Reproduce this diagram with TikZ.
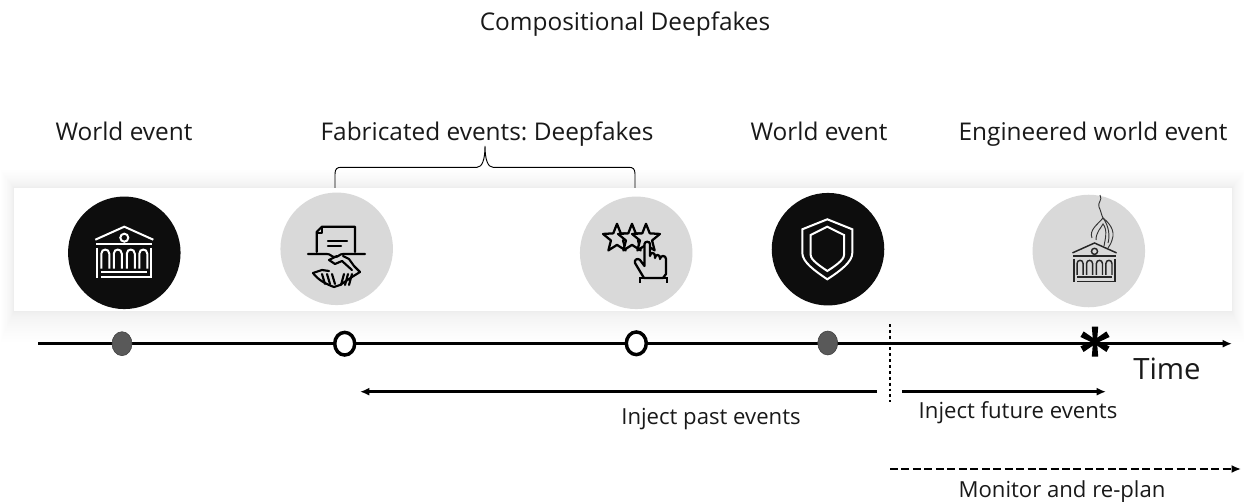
\documentclass[tikz,border=0pt]{standalone}
\usepackage{fontspec}
\setmainfont{Open Sans}
\usetikzlibrary{arrows.meta,shapes.geometric}
\frenchspacing

\definecolor{icongray}{HTML}{D9D9D9}
\definecolor{iconblack}{HTML}{0D0D0D}
\definecolor{dotgray}{HTML}{595959}

\tikzset{
  every picture/.style={line width=0.75pt},
  iconblob/.style={circle,minimum size=84.4pt,inner sep=0pt,draw=none},
  dotnode/.style={ellipse,minimum width=15pt,minimum height=18pt,inner sep=0pt,fill=dotgray,draw=dotgray!70!black,line width=0.4pt},
  ringnode/.style={ellipse,minimum width=15pt,minimum height=17pt,inner sep=0pt,fill=white,draw=black,line width=2.6pt},
  label/.style={font=\fontsize{18.3pt}{22pt}\selectfont,text=black!90,inner sep=0pt,anchor=base},
  smalllabel/.style={font=\fontsize{16.6pt}{20pt}\selectfont,text=black!90,inner sep=0pt,anchor=base},
  tip/.style={-{Latex[length=7pt,width=6pt]}},
  temple/.pic={
    \draw[line width=#1,line join=miter] (-29,13) -- (0,0) -- (29,13);
    \draw[line width=#1] (0,11) circle (4);
    \draw[line width=#1] (-28,17) -- (28,17);
    \draw[line width=#1] (-27,21) -- (-27,51);
    \draw[line width=#1] (27,21) -- (27,51);
    \foreach \ax in {-19,-6.5,6.5,19}{
      \draw[line width=#1] (\ax-4,42) -- (\ax-4,27) .. controls (\ax-4,21.5) and (\ax+4,21.5) .. (\ax+4,27) -- (\ax+4,42);
    }
    \draw[line width=#1] (-23,45) -- (23,45);
    \draw[line width=#1] (-23,50.5) -- (27,50.5);
  }
}

\begin{document}
\begin{tikzpicture}[x=0.75pt,y=0.75pt,yscale=-1,xscale=1]
\useasboundingbox (0,0) rectangle (1244,502);

% Band with soft shadow
\foreach \gr in {1,...,20}{
  \fill[black,opacity=0.0045] (14-\gr*\gr/30,188-\gr*\gr/22) rectangle (1232+\gr*\gr/30,311+\gr*\gr/13);
}
\fill[white] (14,188) rectangle (1232,311);

% Named ends
\coordinate (axisstart) at (38,343.7);
\coordinate (axisend) at (1232,343.7);
\coordinate (cutTop) at (890,324);
\coordinate (cutBottom) at (890,402);
\coordinate (pastStart) at (877,391.7);
\coordinate (pastEnd) at (360,391.7);
\coordinate (futureStart) at (902,391.7);
\coordinate (futureEnd) at (1106,391.7);
\coordinate (replanStart) at (890,469);
\coordinate (replanEnd) at (1241,469);
\coordinate (braceLeft) at (335,188);
\coordinate (braceRight) at (635,188);

% Brace
\draw[line width=0.7pt] (braceLeft) -- (335,174) .. controls (335,169) and (337,167.3) .. (341,167.3) -- (477,167.3) .. controls (482,167.3) and (485,160) .. (485,146)
  .. controls (485,160) and (488,167.3) .. (493,167.3) -- (629,167.3) .. controls (633,167.3) and (635,169) .. (635,174) -- (braceRight);

% Time line
\draw[line width=1.9pt,tip] (axisstart) -- (axisend);
\node[dotnode] (worldA) at (122,343.7) {};
\node[ringnode] (fakeA) at (344.7,343.7) {};
\node[ringnode] (fakeB) at (636.3,343.3) {};
\node[dotnode] (worldB) at (827.7,343) {};

% Asterisk
\coordinate (engineered) at (1095,341.7);
\foreach \ang in {0,60,...,300}{
  \fill[black,rotate around={\ang:(engineered)}] (1093,341.7) -- (1091.8,326.7) -- (1098.2,326.7) -- (1097,341.7) -- cycle;
}

% Lines below
\draw[line width=2.2pt,dash pattern=on 2.2pt off 2.2pt] (cutTop) -- (cutBottom);
\draw[line width=1.9pt,tip] (pastStart) -- (pastEnd);
\draw[line width=1.9pt,tip] (futureStart) -- (futureEnd);
\draw[line width=1.9pt,dash pattern=on 6pt off 2.6pt,tip] (replanStart) -- (replanEnd);

% Circles
\node[iconblob,fill=iconblack] (bank) at (124.3,252.8) {};
\node[iconblob,fill=icongray] (deal) at (336.7,248.8) {};
\node[iconblob,fill=icongray] (rating) at (636.2,252.8) {};
\node[iconblob,fill=iconblack] (shield) at (828,249.2) {};
\node[iconblob,fill=icongray] (burning) at (1088.8,251) {};

% Bank icon
\pic[white,transform shape] at (124.3,226.7) {temple=1.5pt};

% Deal icon
\begin{scope}[black,line width=1.6pt,line join=round,line cap=round]
\draw (316.7,252) -- (316.7,232) -- (322,226.7) -- (355,226.7) -- (355,252);
\draw (317,233) -- (322,233) -- (322,228);
\draw (328,241) -- (347,241);
\draw (328,246) -- (341,246);
\draw (308,254) -- (327,254) .. controls (331,254) and (331,257) .. (335,257) .. controls (339,257) and (339,254) .. (343,254) -- (365,254);
\draw (337,256) -- (329,260) -- (335,264) -- (342,261) -- (352,270);
\draw (343,256) -- (349,259) -- (354,266);
\draw (313,273) -- (322,270) -- (329,271);
\draw (313,273) .. controls (318,280) and (326,284) .. (334,287) -- (340,285) -- (352,277) -- (360,272);
\draw (354,266) -- (360,272);
\foreach \fx in {322,327,332}{
  \draw (\fx,274) -- (\fx+3,284);
}
\foreach \fx in {341,345,349}{
  \draw (\fx,285) -- (\fx+3,274);
}
\end{scope}

% Rating icon
\foreach \sx/\sname in {617/starA,632/starB,646/starC}{
  \node[star,star points=5,star point ratio=2.3,minimum size=22pt,inner sep=0pt,fill=icongray,draw=black,line width=1.7pt,line join=round] (\sname) at (\sx,238.5) {};
}
\draw[black,fill=icongray,line width=1.7pt,line join=round]
  (644.5,244) .. controls (644.5,241) and (650,241) .. (650,244) -- (650,256)
  .. controls (650,252) and (655,252) .. (655,256) -- (655,258)
  .. controls (655,254) and (660,254) .. (660,258) -- (660,259)
  .. controls (660,255) and (666,255) .. (666,259) -- (666,274) -- (663,278) -- (644,278)
  -- (635,263) .. controls (634,259) and (638,258) .. (640,260) -- (644.5,266) -- cycle;
\draw[black,line width=1.7pt] (640,283) -- (640,278) -- (667,278) -- (667,283);

% Shield icon
\draw[white,line width=1.5pt,line join=miter] (827.3,219.3) -- (852.3,229.3) -- (852.3,253) .. controls (852.3,262) and (840,271) .. (827.3,279.3) .. controls (815,271) and (802.3,262) .. (802.3,253) -- (802.3,229.3) -- cycle;
\draw[white,line width=1.5pt,line join=miter] (827.3,226.7) -- (844,235) -- (844,255) .. controls (844,260) and (835,266) .. (827.3,271) .. controls (820,266) and (810.7,260) .. (810.7,255) -- (810.7,235) -- cycle;

% Burning icon
\begin{scope}[shift={(1094.5,243)},scale=0.76]
\pic[black!85,transform shape] at (0,0) {temple=1.1pt};
\end{scope}
\begin{scope}[black!80,line width=0.7pt]
\draw (1100,195) .. controls (1103,200) and (1097,203) .. (1099,207) .. controls (1101,211) and (1101,214) .. (1103,218);
\draw (1092,238) .. controls (1089,230) and (1097,225) .. (1103,218) .. controls (1108,222) and (1116,230) .. (1112,240) .. controls (1111,244) and (1109,246) .. (1108,248);
\draw (1096,240) .. controls (1096,232) and (1101,228) .. (1103,224) .. controls (1108,230) and (1105,240) .. (1104,246);
\draw (1103,218) .. controls (1109,226) and (1110,236) .. (1108,243);
\end{scope}

% Text Node
\node[label] (title) at (625,30.5) {Compositional Deepfakes};
\node[label] (worldLabelA) at (124,141) {World event};
\node[label] (fakeLabel) at (487,141) {Fabricated events: Deepfakes};
\node[label] (worldLabelB) at (819,141) {World event};
\node[label] (engineeredLabel) at (1093,141) {Engineered world event};
\node[font=\fontsize{22pt}{26pt}\selectfont,text=black!90,inner sep=0pt,anchor=base] (timeLabel) at (1167,379) {Time};
\node[smalllabel] (pastLabel) at (711,424) {Inject past events};
\node[smalllabel] (futureLabel) at (1018,418) {Inject future events};
\node[smalllabel] (replanLabel) at (1062,497) {Monitor and re-plan};

\end{tikzpicture}
\end{document}
